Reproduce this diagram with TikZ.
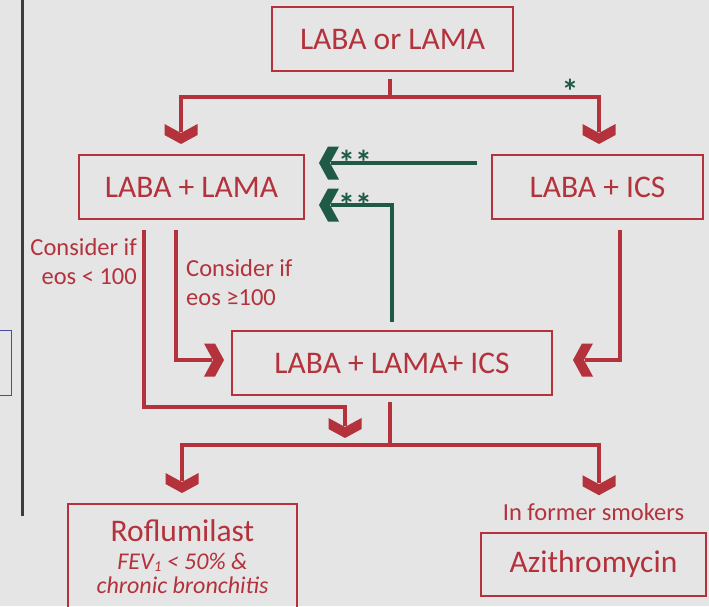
\documentclass[tikz,border=0pt]{standalone}
\usepackage{fontspec}
\setmainfont{Carlito}
\usetikzlibrary{arrows.meta}
\definecolor{bg}{HTML}{E5E5E5}
\definecolor{rd}{HTML}{B3323B}
\definecolor{gn}{HTML}{1E5A46}
\definecolor{dk}{HTML}{3C3C3C}
\definecolor{bl}{HTML}{4B4B9B}
\pgfdeclarearrow{
  name = Chev,
  parameters = {},
  setup code = {
    \pgfarrowssettipend{0pt}
    \pgfarrowssetlineend{-12pt}
    \pgfarrowssetvisualbackend{-20pt}
    \pgfarrowssetbackend{-20pt}
    \pgfarrowshullpoint{0pt}{0pt}
    \pgfarrowshullpoint{-20pt}{16.5pt}
    \pgfarrowshullpoint{-20pt}{-16.5pt}
  },
  drawing code = {
    \pgfpathmoveto{\pgfpoint{0pt}{0pt}}
    \pgfpathlineto{\pgfpoint{-9pt}{16.5pt}}
    \pgfpathlineto{\pgfpoint{-20pt}{16.5pt}}
    \pgfpathlineto{\pgfpoint{-11pt}{0pt}}
    \pgfpathlineto{\pgfpoint{-20pt}{-16.5pt}}
    \pgfpathlineto{\pgfpoint{-9pt}{-16.5pt}}
    \pgfpathclose
    \pgfusepathqfill
  }
}
\begin{document}
\begin{tikzpicture}[x=1pt,y=-1pt,
  box/.style={draw=rd, line width=2pt, text=rd, font=\fontsize{31.5}{34}\selectfont, inner sep=0pt, minimum height=64pt},
  rl/.style={draw=rd, line width=4pt},
  gl/.style={draw=gn, line width=4pt},
  chev/.style={-{Chev}},
  lbl/.style={text=rd, font=\fontsize{24.5}{29}\selectfont, inner sep=0pt},
  star/.style={text=gn, font=\bfseries\fontsize{34}{34}\selectfont, inner sep=0pt},
]
\fill[bg] (0,0) rectangle (709,606);
\clip (0,0) rectangle (709,606);
\draw[dk, line width=3pt] (22,0) -- (22,516);
\draw[bl, line width=1pt] (-5,330) rectangle (11,395);

% nodes
\node[box, minimum width=241pt] (top) at (392.5,39) {LABA or LAMA};
\node[box, minimum width=225pt] (ll) at (191.5,187) {LABA + LAMA};
\node[box, minimum width=211pt] (li) at (597.5,187) {LABA + ICS};
\node[box, minimum width=320pt] (tri) at (392,363) {LABA + LAMA+ ICS};
\node[box, minimum width=229pt, minimum height=120pt, anchor=north] (rof) at (182.5,503) {};
\node[lbl, font=\fontsize{31.5}{34}\selectfont] (rofa) at (182.5,531) {Roflumilast};
\node[lbl, font=\itshape\fontsize{24}{23}\selectfont, anchor=base] (rofb) at (182.5,569) {FEV\raisebox{-2pt}{\fontsize{15}{15}\selectfont 1} < 50\% \&};
\node[lbl, font=\itshape\fontsize{24}{23}\selectfont, anchor=base] (rofc) at (182.5,593) {chronic bronchitis};
\node[box, minimum width=225pt, minimum height=63pt] (azi) at (593.5,564.5) {Azithromycin};
\node[lbl] (smk) at (593.5,512) {In former smokers};
\node[lbl, align=right, anchor=east] (c1) at (137,262) {Consider if\\eos < 100};
\node[lbl, align=left, anchor=west] (c2) at (186,283) {Consider if\\eos ≥100};
\node[star] (s0) at (570,91) {*};
\node[star] (s1) at (355,162) {**};
\node[star] (s2) at (355,205) {**};

% junctions
\coordinate (j1) at (390,97);
\coordinate (j2) at (390,445);

% red connectors
\draw[rl, shorten <=7pt] (top.south -| j1) -- (j1);
\draw[rl, chev, shorten >=10pt] (j1) -| (ll.north -| 181,0);
\draw[rl, chev, shorten >=10pt] (j1) -| (li.north -| 599,0);
\draw[rl, chev, shorten <=10pt, shorten >=7pt] (ll.south -| 176,0) |- (tri.west |- 0,360);
\draw[rl, chev, shorten <=10pt, shorten >=7pt] (ll.south -| 144,0) |- (345,407) -- (j2 -| 345,0);
\draw[rl, chev, shorten <=10pt, shorten >=20pt] (li.south -| 620,0) |- (tri.east |- 0,360);
\draw[rl, shorten <=6pt] (tri.south -| j2) -- (j2);
\draw[rl, chev, shorten >=10pt] (j2) -| (rof.north -| 182,0);
\draw[rl, chev, shorten >=8pt] (j2) -| (smk.north -| 599,0);

% green connectors
\draw[gl, chev, shorten <=14pt, shorten >=14pt] (li.west |- 0,163) -- (ll.east |- 0,163);
\draw[gl, chev, shorten <=8pt, shorten >=14pt] (tri.north -| 392,0) |- (ll.east |- 0,205);
\end{tikzpicture}
\end{document}
